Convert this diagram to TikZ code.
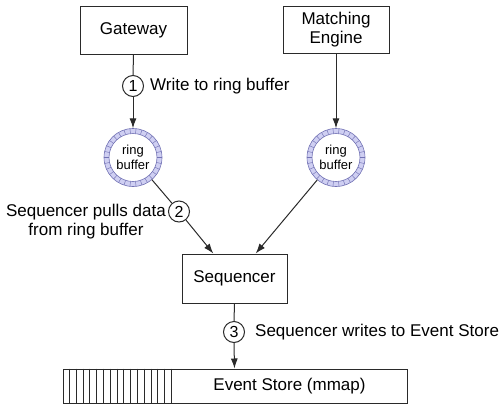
\documentclass[tikz,border=0pt]{standalone}
\usepackage{fontspec}
\setmainfont{Liberation Sans}
\usetikzlibrary{arrows.meta,calc}
\definecolor{ringfill}{HTML}{CFCFF2}
\definecolor{ringline}{HTML}{7272B4}
\definecolor{ink}{HTML}{2A2A2A}
\tikzset{
  box/.style={draw=ink, line width=1pt, rectangle, inner sep=0pt, align=center, font=\fontsize{17}{19.5}\selectfont},
  num/.style={draw=ink, line width=1pt, circle, minimum size=21pt, inner sep=0pt, font=\fontsize{16}{16}\selectfont},
  lbl/.style={inner sep=0pt, align=center, font=\fontsize{17}{19.5}\selectfont},
  ringnode/.style={circle, minimum size=58pt, inner sep=0pt, align=center, font=\fontsize{13}{15}\selectfont},
  conn/.style={draw=ink, line width=1pt},
  arr/.style={conn, -{Latex[length=10pt,width=7pt]}},
  rl/.style={draw=ringline, line width=0.6pt},
  rt/.style={draw=ringline, line width=0.45pt}
}
\begin{document}
\begin{tikzpicture}[x=1pt,y=-1pt]
\useasboundingbox (0,0) rectangle (499,408);
% boxes
\node[box, minimum width=107pt, minimum height=48pt] (gw) at (133.5,30) {Gateway};
\node[box, minimum width=106pt, minimum height=47pt] (me) at (336,29.5) {Matching\\Engine};
\node[box, minimum width=105pt, minimum height=49pt] (seq) at (234.5,278.5) {Sequencer};
\node[box, minimum width=344pt, minimum height=34pt] (store) at (235,386) {};
\node[lbl] (storetext) at (289.5,386) {Event Store (mmap)};
% hatching
\foreach \k in {1,...,16} {
  \draw[draw=ink, line width=0.8pt] ($(store.north west)+(\k*6.8125,0)$) -- ($(store.south west)+(\k*6.8125,0)$);
}
% ring buffers
\foreach \cx in {133,336} {
  \fill[ringfill, even odd rule] (\cx,157.5) circle (29pt) (\cx,157.5) circle (24pt);
  \draw[rl] (\cx,157.5) circle (29pt);
  \draw[rl] (\cx,157.5) circle (24pt);
  \foreach \a in {0,12,...,350} {
    \draw[rt] ($(\cx,157.5)+(\a:24pt)$) -- ($(\cx,157.5)+(\a:29pt)$);
  }
}
\node[ringnode] (rb1) at (133,157.5) {ring\\buffer};
\node[ringnode] (rb2) at (336,157.5) {ring\\buffer};
% numbered circles
\node[num] (c1) at (133,86) {1};
\node[num] (c2) at (179,211.5) {2};
\node[num] (c3) at (234,332) {3};
% labels
\node[lbl, anchor=west] (l1) at (150,86) {Write to ring buffer};
\node[lbl, anchor=east] (l2) at (166,221.5) {Sequencer pulls data\\from ring buffer};
\node[lbl, anchor=west] (l3) at (255,332) {Sequencer writes to Event Store};
% target coordinates
\coordinate (s1) at ($(seq.north west)!0.3!(seq.north east)$);
\coordinate (s2) at ($(seq.north west)!0.7!(seq.north east)$);
\coordinate (st) at (seq.south |- store.north);
% connectors
\draw[conn] (gw.south) -- (c1.north);
\draw[arr] (c1.south) -- (rb1.north);
\draw[arr] (me.south) -- (rb2.north);
\draw[conn] (rb1) -- (c2);
\draw[arr] (c2) -- (s1);
\draw[arr] (rb2) -- (s2);
\draw[conn] (seq.south) -- (c3.north);
\draw[arr] (c3.south) -- (st);
\end{tikzpicture}
\end{document}
